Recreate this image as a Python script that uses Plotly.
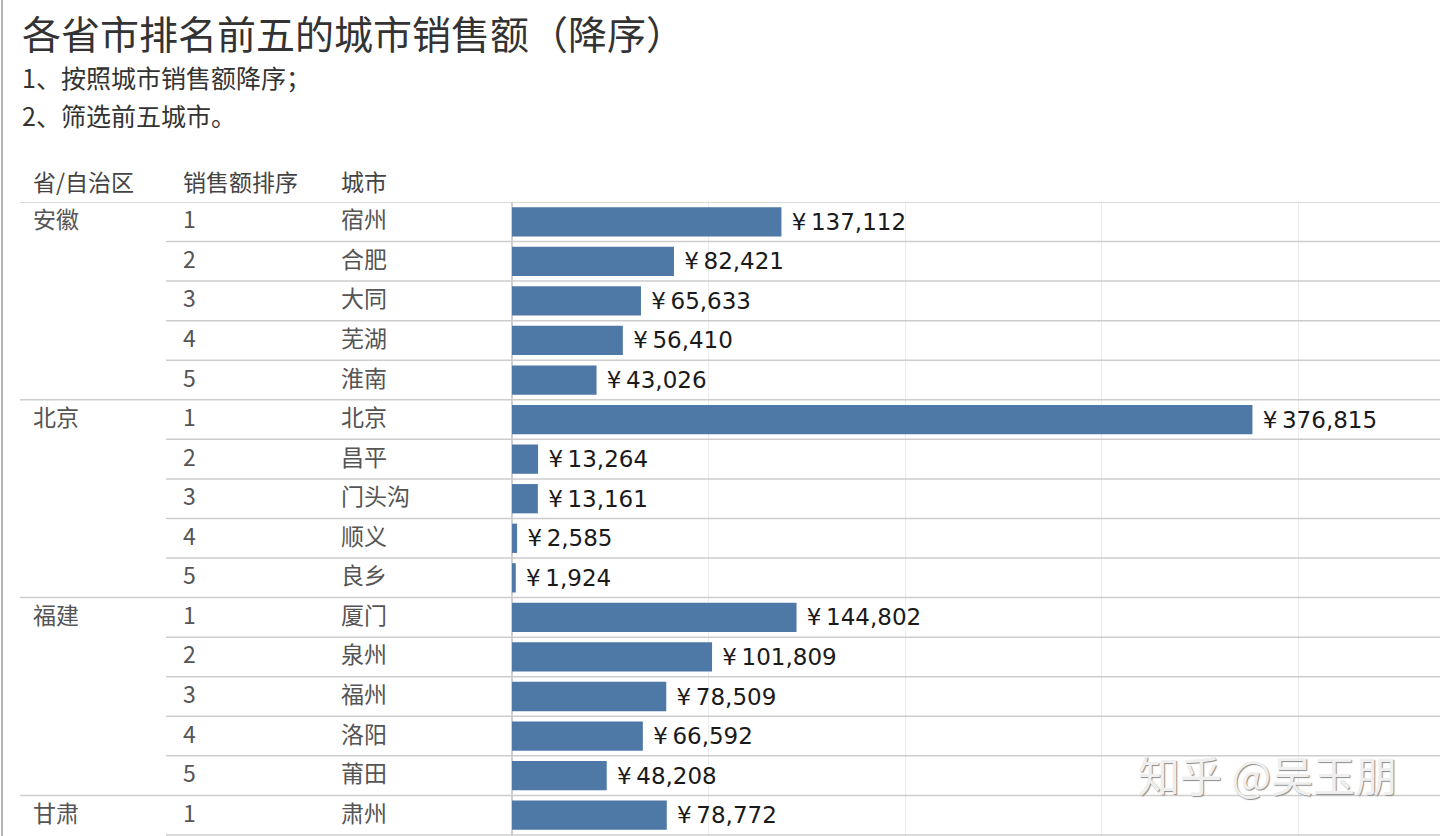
import plotly.graph_objects as go

# ---------------- data ----------------
provinces = ["安徽", "安徽", "安徽", "安徽", "安徽",
             "北京", "北京", "北京", "北京", "北京",
             "福建", "福建", "福建", "福建", "福建",
             "甘肃"]
ranks = [1, 2, 3, 4, 5, 1, 2, 3, 4, 5, 1, 2, 3, 4, 5, 1]
cities = ["宿州", "合肥", "大同", "芜湖", "淮南",
          "北京", "昌平", "门头沟", "顺义", "良乡",
          "厦门", "泉州", "福州", "洛阳", "莆田",
          "肃州"]
sales = [137112, 82421, 65633, 56410, 43026,
         376815, 13264, 13161, 2585, 1924,
         144802, 101809, 78509, 66592, 48208,
         78772]
headers = ["省/自治区", "销售额排序", "城市"]
title_text = "各省市排名前五的城市销售额（降序）"
subtitles = ["1、按照城市销售额降序；", "2、筛选前五城市。"]
watermark = "知乎 @吴玉朋"

# ---------------- layout helpers ----------------
W, H = 1440, 836
L, T = 512, 202
PW, PH = W - L, H - T
ROW_H = 39.56
PX_PER_100K = 196.5


def px(x):
    return (x - L) / PW


def py(y):
    return (H - y) / PH


CJK = "Noto Sans CJK SC, Noto Sans, sans-serif"
rows = list(range(len(cities)))

fig = go.Figure()
fig.add_trace(go.Bar(
    x=sales, y=rows, orientation="h", width=0.74,
    marker=dict(color="#4e79a7", line=dict(width=0)),
    texttemplate=" ¥\u2009%{x:,}", textposition="outside",
    textfont=dict(family="DejaVu Sans, sans-serif", size=23, color="#1a1a1a"),
    constraintext="none", cliponaxis=False, hoverinfo="skip",
))

shapes = []
# row separators
for k in range(len(rows) + 1):
    b = k - 0.5
    if k == 0 or (k < len(rows) and provinces[k] != provinces[k - 1]):
        x0 = px(20)
    else:
        x0 = px(166)
    shapes.append(dict(type="line", xref="paper", yref="y", x0=x0, x1=1,
                       y0=b, y1=b, line=dict(color="#cdcdcd", width=1.5)))
# left frame line
shapes.append(dict(type="line", xref="paper", yref="paper", x0=px(2), x1=px(2),
                   y0=0, y1=py(0), line=dict(color="#b4b4b4", width=2)))

ann = []
ann.append(dict(text=title_text, xref="paper", yref="paper", x=px(20), y=py(32),
                xanchor="left", yanchor="middle", showarrow=False,
                font=dict(family=CJK, size=39, color="#333333")))
for s, yy in zip(subtitles, [77, 115]):
    ann.append(dict(text=s, xref="paper", yref="paper", x=px(20), y=py(yy),
                    xanchor="left", yanchor="middle", showarrow=False,
                    font=dict(family=CJK, size=25, color="#333333")))
for h, xx in zip(headers, [31, 181, 339]):
    ann.append(dict(text=h, xref="paper", yref="paper", x=px(xx), y=py(181),
                    xanchor="left", yanchor="middle", showarrow=False,
                    font=dict(family=CJK, size=23, color="#444444")))
for i in rows:
    if i == 0 or provinces[i] != provinces[i - 1]:
        ann.append(dict(text=provinces[i], xref="paper", yref="y", x=px(31), y=i,
                        yshift=3.5, xanchor="left", yanchor="middle", showarrow=False,
                        font=dict(family=CJK, size=23, color="#555555")))
    ann.append(dict(text=str(ranks[i]), xref="paper", yref="y", x=px(181), y=i,
                    yshift=3.5, xanchor="left", yanchor="middle", showarrow=False,
                    font=dict(family=CJK, size=23, color="#555555")))
    ann.append(dict(text=cities[i], xref="paper", yref="y", x=px(339), y=i,
                    yshift=3.5, xanchor="left", yanchor="middle", showarrow=False,
                    font=dict(family=CJK, size=23, color="#555555")))
ann.append(dict(text=watermark, xref="paper", yref="paper", x=px(1136), y=py(773),
                xanchor="left", yanchor="middle", showarrow=False,
                font=dict(family=CJK, size=42, color="#efefef",
                          shadow="1px 1px 1px #8a8a8a")))

fig.update_layout(
    width=W, height=H,
    margin=dict(l=L, r=0, t=T, b=0, pad=0),
    paper_bgcolor="white", plot_bgcolor="white",
    showlegend=False,
    xaxis=dict(range=[0, PW / PX_PER_100K * 100000], dtick=100000, tick0=0,
               showgrid=True, gridcolor="#ececec", gridwidth=1,
               zeroline=True, zerolinecolor="#cfcfcf", zerolinewidth=1.5,
               showticklabels=False, ticks="", showline=False, fixedrange=True),
    yaxis=dict(range=[-0.5 + PH / ROW_H, -0.5], showgrid=False, zeroline=False,
               showticklabels=False, ticks="", showline=False, fixedrange=True),
    shapes=shapes, annotations=ann,
)

fig.write_html("out.html")
